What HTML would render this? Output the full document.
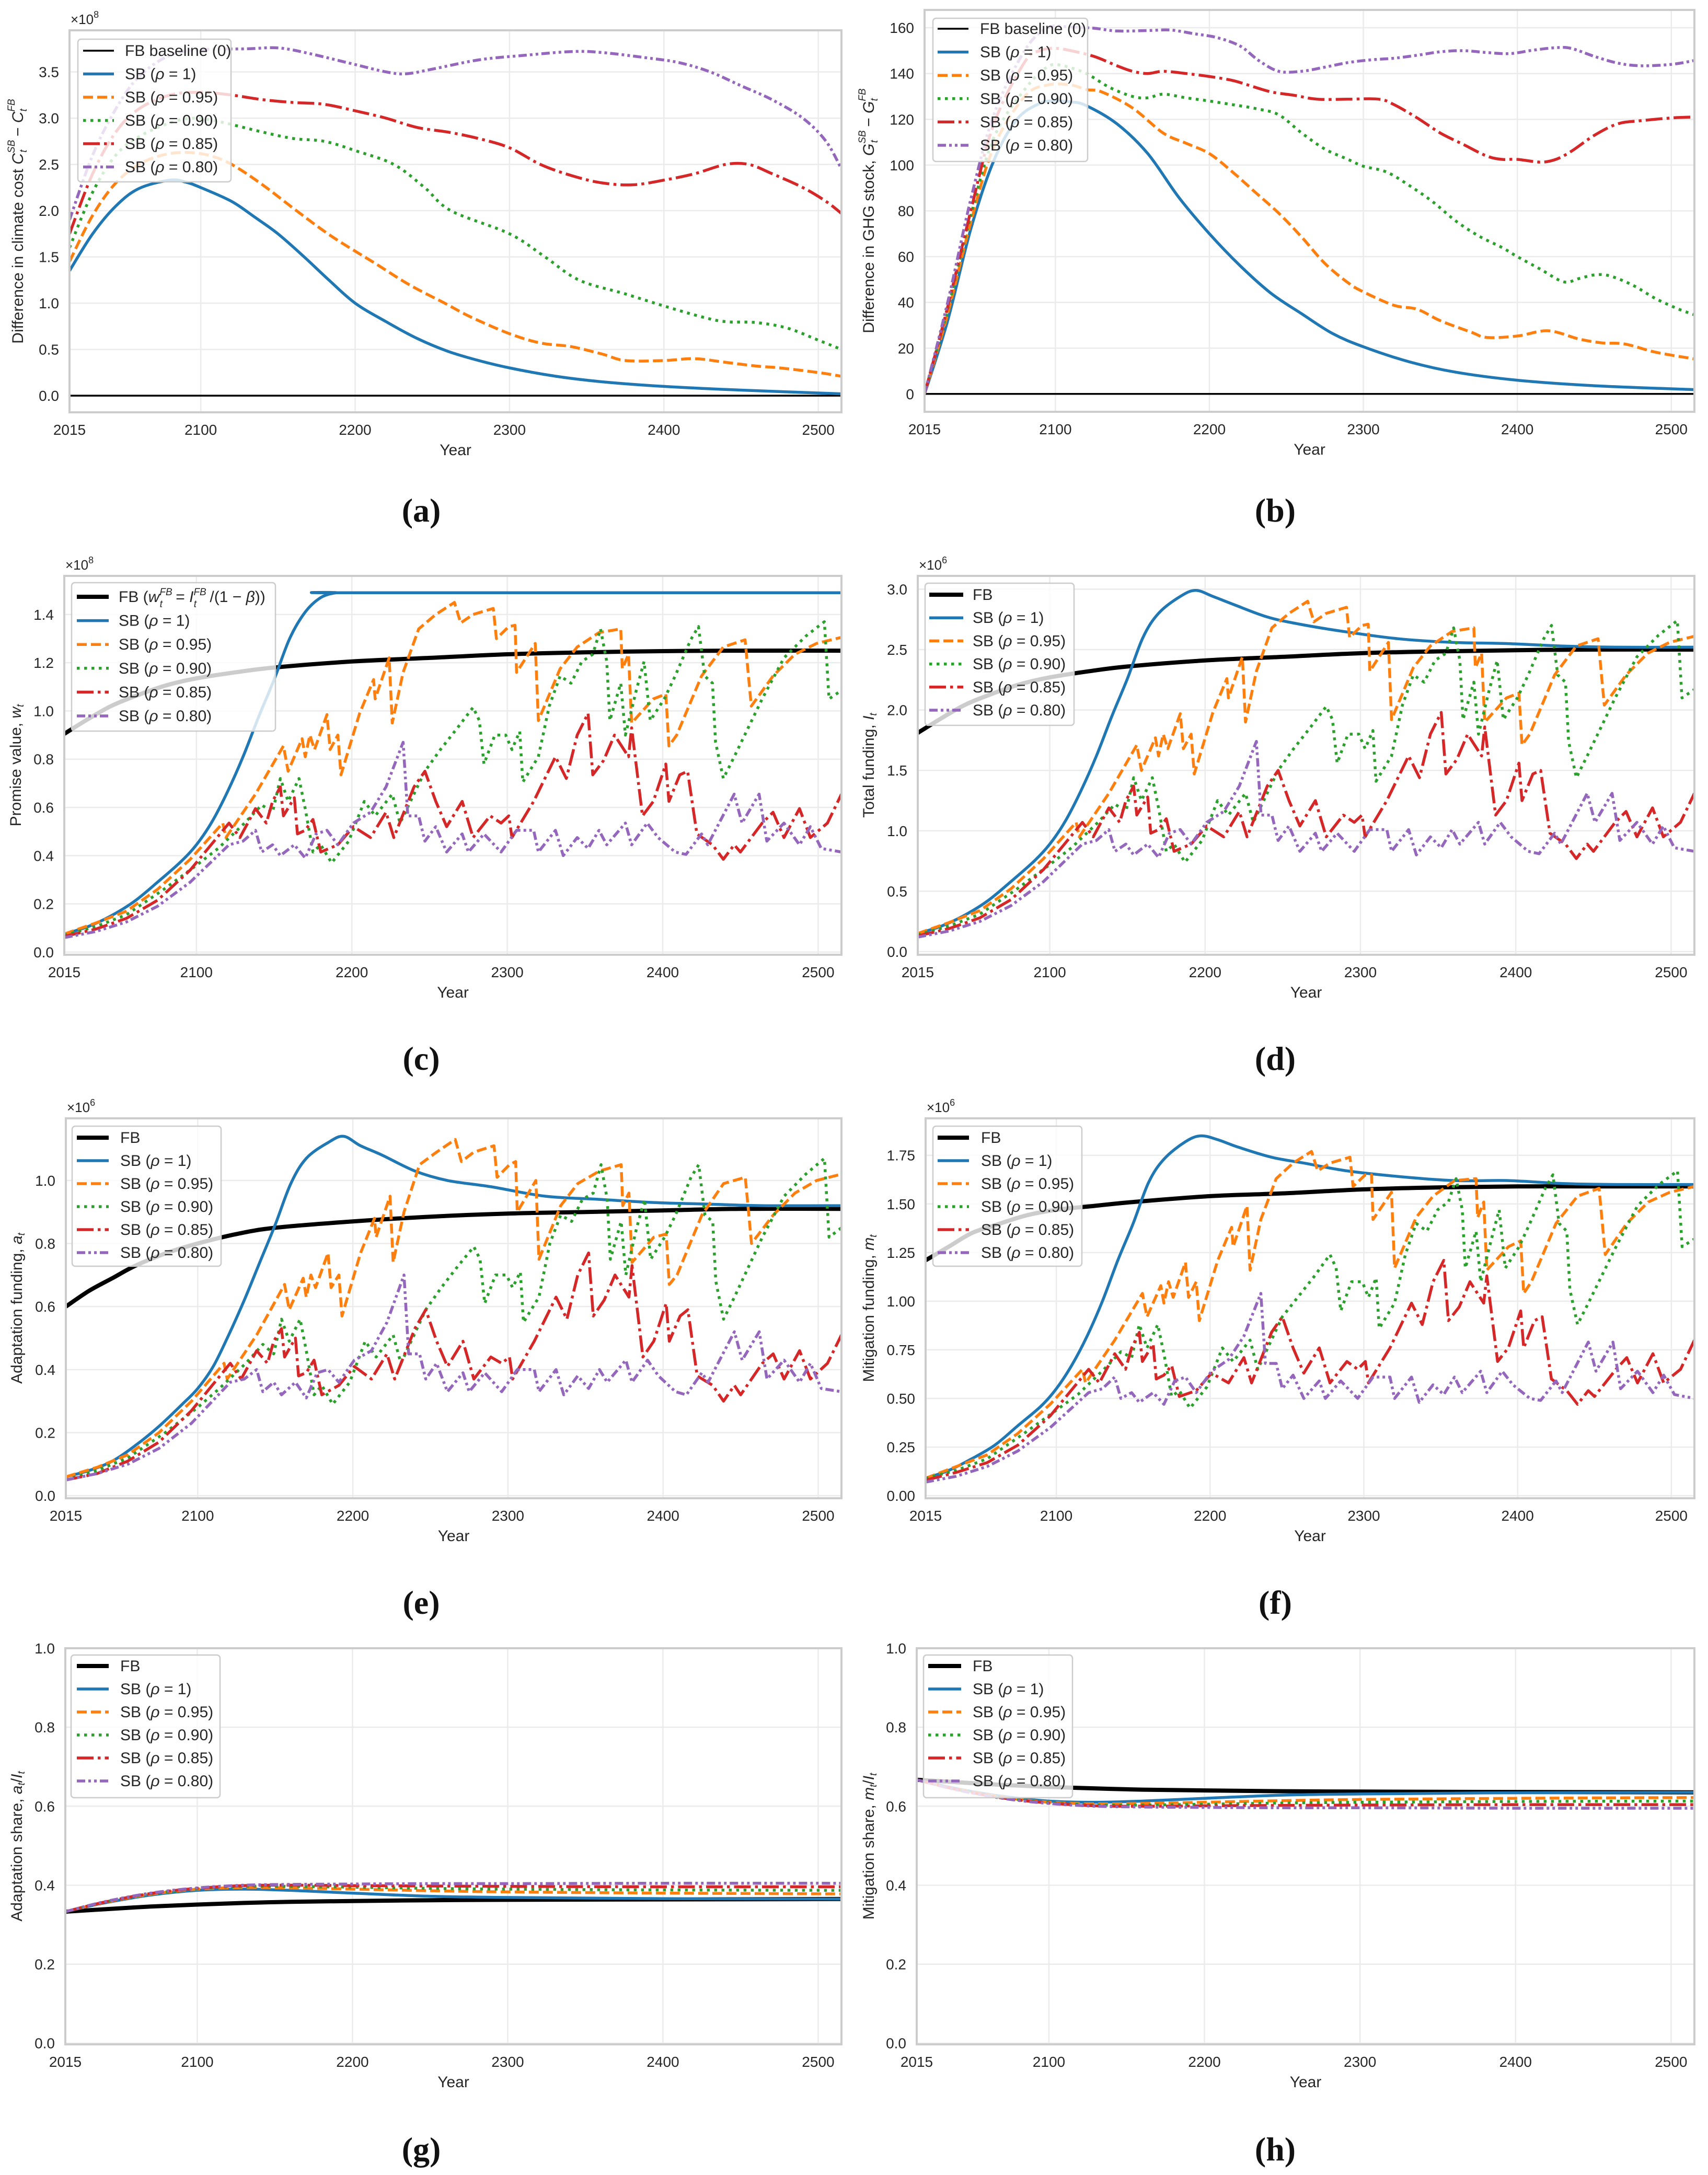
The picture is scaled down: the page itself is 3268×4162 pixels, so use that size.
<!DOCTYPE html>
<html><head><meta charset="utf-8"><title>SB vs FB comparison panels</title>
<style>
html,body{margin:0;padding:0;background:#fff;}
svg{display:block;font-family:"Liberation Sans",sans-serif;}
</style></head>
<body>
<svg id="fig" xmlns="http://www.w3.org/2000/svg" width="3268" height="4162" viewBox="0 0 3268 4162"></svg>
<script>
// ===== tick label arrays =====
const xTicks = [2015,2100,2200,2300,2400,2500];
const aTicks = [0,0.5,1.0,1.5,2.0,2.5,3.0,3.5];
const bTicks = [0,20,40,60,80,100,120,140,160];
const cTicks = [0,0.2,0.4,0.6,0.8,1.0,1.2,1.4];
const dTicks = [0,0.5,1.0,1.5,2.0,2.5,3.0];
const eTicks = [0,0.2,0.4,0.6,0.8,1.0];
const fTicks = [0,0.25,0.5,0.75,1.0,1.25,1.5,1.75];
const gTicks = [0,0.2,0.4,0.6,0.8,1.0];

// ===== (a) climate cost difference (x1e8) =====
const aFbX = [2015,2515];
const aFbY = [0,0];
const aBlueX = [2015,2030,2045,2060,2080,2090,2100,2120,2135,2150,2167,2183,2200,2220,2240,2260,2280,2300,2330,2360,2400,2450,2515];
const aBlueY = [1.35,1.75,2.05,2.24,2.33,2.31,2.25,2.10,1.93,1.75,1.5,1.25,1.0,0.8,0.62,0.48,0.38,0.30,0.21,0.15,0.10,0.06,0.02];
const aOrX = [2015,2030,2045,2060,2075,2090,2105,2120,2140,2162,2185,2213,2235,2258,2275,2300,2320,2340,2360,2375,2400,2420,2440,2460,2475,2500,2515];
const aOrY = [1.45,1.95,2.3,2.5,2.6,2.63,2.6,2.5,2.28,2.0,1.72,1.43,1.2,1.0,0.85,0.67,0.57,0.53,0.45,0.38,0.38,0.40,0.36,0.32,0.30,0.25,0.21];
const aGrX = [2015,2030,2045,2060,2080,2095,2110,2140,2160,2180,2200,2225,2245,2262,2300,2323,2345,2375,2400,2425,2440,2460,2480,2500,2515];
const aGrY = [1.6,2.2,2.6,2.8,2.95,3.0,2.97,2.85,2.78,2.75,2.65,2.5,2.25,2.0,1.75,1.5,1.25,1.1,0.97,0.85,0.8,0.79,0.73,0.6,0.5];
const aRdX = [2015,2030,2045,2060,2080,2100,2120,2140,2160,2180,2200,2220,2240,2260,2280,2300,2320,2340,2360,2380,2400,2420,2440,2455,2470,2490,2505,2515];
const aRdY = [1.75,2.4,2.85,3.1,3.25,3.28,3.25,3.2,3.17,3.15,3.08,3.0,2.9,2.85,2.78,2.68,2.5,2.38,2.3,2.28,2.33,2.4,2.5,2.5,2.4,2.25,2.1,1.97];
const aPuX = [2015,2030,2045,2060,2080,2100,2130,2150,2170,2200,2220,2233,2250,2280,2310,2340,2360,2390,2410,2430,2450,2470,2490,2505,2515];
const aPuY = [1.9,2.6,3.1,3.45,3.68,3.74,3.75,3.76,3.7,3.58,3.5,3.48,3.53,3.63,3.68,3.72,3.71,3.65,3.6,3.5,3.35,3.2,3.0,2.75,2.45];

// ===== (b) GHG stock difference =====
const bFbX = [2015,2515];
const bFbY = [0,0];
const bBlueX = [2015,2030,2045,2060,2075,2090,2100,2110,2120,2140,2160,2180,2200,2220,2240,2260,2280,2300,2330,2360,2400,2450,2515];
const bBlueY = [0,32,72,102,120,127,128,127.6,126,118,105,86,70,56,44,35,26.4,20.6,14,9.5,6,3.6,1.9];
const bOrX = [2015,2030,2045,2060,2080,2095,2110,2120,2130,2150,2170,2185,2200,2215,2230,2245,2260,2275,2290,2300,2320,2335,2350,2370,2380,2400,2420,2440,2455,2470,2490,2515];
const bOrY = [0,35,75,108,130,135,135,133,132,125,114,109.5,105,97,88,79,68.5,57,48.6,44.6,38.7,37,32,27,24.7,25.3,27.6,24,22.3,21.8,18.2,15.3];
const bGrX = [2015,2030,2045,2060,2080,2095,2105,2120,2135,2150,2160,2170,2185,2200,2215,2230,2245,2260,2275,2290,2300,2315,2330,2345,2360,2375,2390,2400,2415,2430,2440,2450,2460,2475,2490,2505,2515];
const bGrY = [0,37,78,112,133,143,143.4,140,134,130,129.4,131,129.4,128,126.4,124.7,122,114,107,102.5,99.5,97,91,84,75.6,69,64,60,54.5,49,50.4,52,51.6,47.5,41.6,37,34.6];
const bRdX = [2015,2030,2045,2060,2080,2090,2100,2110,2125,2140,2150,2160,2170,2185,2200,2215,2225,2240,2255,2270,2290,2310,2320,2335,2350,2365,2380,2390,2400,2415,2425,2435,2450,2465,2480,2500,2515];
const bRdY = [0,38,80,118,145,150,151,150,147.5,143.4,141,140,141,140,138.7,137,135,132,130.5,128.8,128.8,128.8,126.4,120.6,114,109,104,102.5,102.5,101.3,102.5,106,113,118,119.4,120.6,121];
const bPuX = [2015,2030,2045,2060,2080,2095,2110,2125,2140,2160,2175,2190,2205,2220,2232,2245,2260,2275,2290,2305,2320,2335,2350,2365,2380,2395,2410,2425,2435,2450,2465,2480,2500,2515];
const bPuY = [0,40,85,122,150,160,160.3,159.8,158.6,158.8,159,157.4,155.7,152,145.7,141,141,142.8,144.8,146,146.7,148,149.5,150,149.2,148.7,150.2,151.3,151,147.5,144.6,143.4,144,145.7];

// ===== shared year grids for panels c-f =====
const fbYears = [2015,2030,2045,2060,2080,2100,2125,2150,2200,2250,2300,2350,2400,2450,2515];
const blueYears = [2015,2030,2045,2060,2075,2090,2100,2110,2120,2130,2140,2150,2160,2170,2184,2194,2205,2219,2240,2261,2289,2324,2359,2394,2429,2464,2515];
const orYears = [2015,2035,2055,2075,2096,2117,2119,2138,2156,2159,2168,2170,2173,2176,2184,2186,2191,2193,2205,2214,2215,2224,2226,2233,2243,2254,2266,2270,2278,2291,2293,2301,2305,2306,2318,2320,2334,2345,2359,2373,2374,2378,2380,2394,2402,2404,2409,2425,2439,2453,2457,2471,2485,2499,2515];
const grYears = [2015,2035,2055,2079,2100,2114,2131,2142,2149,2154,2159,2166,2170,2175,2180,2187,2198,2208,2215,2226,2231,2247,2257,2268,2278,2282,2285,2292,2299,2303,2308,2310,2320,2327,2334,2341,2348,2355,2360,2364,2366,2373,2376,2383,2388,2392,2401,2408,2418,2423,2427,2432,2434,2439,2446,2464,2478,2492,2504,2507,2515];
const rdYears = [2015,2035,2055,2075,2096,2121,2128,2138,2145,2149,2154,2156,2163,2165,2170,2175,2180,2191,2201,2212,2222,2227,2240,2247,2254,2261,2271,2278,2289,2296,2301,2303,2317,2331,2338,2345,2352,2355,2362,2369,2378,2380,2387,2394,2402,2404,2411,2416,2422,2432,2439,2446,2450,2464,2471,2478,2488,2495,2506,2515];
const puYears = [2015,2035,2055,2075,2096,2121,2130,2138,2142,2149,2154,2163,2170,2177,2184,2191,2201,2212,2222,2233,2236,2243,2247,2254,2261,2271,2275,2285,2296,2306,2317,2320,2331,2336,2345,2352,2359,2364,2376,2380,2390,2397,2408,2415,2425,2429,2446,2451,2462,2467,2478,2488,2495,2502,2515];
const cBlueYears = [2015,2030,2045,2060,2075,2090,2100,2110,2120,2130,2140,2150,2160,2170,2180,2190,2200,2515];

// ===== (c) promise value (x1e8) =====
const cFb = [0.905,0.965,1.02,1.06,1.105,1.135,1.16,1.18,1.205,1.22,1.235,1.243,1.248,1.25,1.25];
const cBlue = [0.075,0.105,0.15,0.21,0.29,0.375,0.445,0.54,0.665,0.81,0.975,1.13,1.3,1.41,1.47,1.49,1.49,1.49];
const cOr = [0.075,0.12,0.17,0.26,0.385,0.535,0.475,0.655,0.855,0.75,0.885,0.81,0.9,0.84,0.985,0.84,0.9,0.735,0.99,1.13,1.05,1.22,0.95,1.16,1.34,1.4,1.45,1.365,1.4,1.425,1.3,1.35,1.355,1.16,1.28,0.96,1.175,1.265,1.325,1.34,1.175,1.235,0.95,1.05,1.07,0.855,0.9,1.145,1.265,1.295,1.02,1.145,1.235,1.28,1.305];
const cGr = [0.07,0.105,0.155,0.26,0.36,0.43,0.535,0.61,0.58,0.72,0.625,0.72,0.595,0.415,0.445,0.37,0.46,0.625,0.565,0.655,0.535,0.75,0.84,0.93,1.015,0.96,0.78,0.9,0.9,0.84,0.915,0.705,0.81,1.02,1.145,1.115,1.205,1.235,1.34,1.205,0.96,1.115,0.9,1.085,1.205,0.96,1.05,1.145,1.295,1.35,1.145,1.115,0.87,0.72,0.81,1.05,1.22,1.31,1.37,1.05,1.085];
const cRd = [0.065,0.095,0.14,0.215,0.34,0.535,0.475,0.595,0.535,0.625,0.685,0.565,0.64,0.49,0.505,0.55,0.415,0.445,0.52,0.475,0.58,0.475,0.685,0.75,0.625,0.52,0.625,0.475,0.565,0.535,0.565,0.475,0.625,0.81,0.72,0.9,0.99,0.735,0.795,0.9,0.81,0.93,0.565,0.625,0.78,0.625,0.735,0.75,0.49,0.445,0.385,0.445,0.415,0.535,0.58,0.475,0.595,0.475,0.535,0.655];
const cPu = [0.06,0.085,0.125,0.19,0.29,0.445,0.46,0.505,0.415,0.445,0.4,0.445,0.39,0.49,0.505,0.445,0.535,0.58,0.685,0.87,0.565,0.565,0.46,0.52,0.415,0.49,0.415,0.49,0.415,0.505,0.505,0.415,0.505,0.4,0.475,0.43,0.505,0.445,0.535,0.445,0.535,0.475,0.415,0.405,0.49,0.445,0.655,0.535,0.655,0.46,0.535,0.445,0.52,0.43,0.415];

// ===== (d) total funding (x1e6) =====
const dFb = [1.81,1.93,2.04,2.12,2.21,2.27,2.32,2.36,2.41,2.44,2.47,2.485,2.495,2.5,2.5];
const dBlue = [0.15,0.21,0.3,0.42,0.58,0.75,0.89,1.08,1.33,1.62,1.95,2.26,2.6,2.8,2.94,2.99,2.94,2.87,2.77,2.71,2.65,2.59,2.56,2.55,2.53,2.52,2.52];
const dOr = [0.15,0.24,0.34,0.52,0.77,1.07,0.95,1.31,1.71,1.5,1.77,1.62,1.8,1.68,1.97,1.68,1.8,1.47,1.98,2.26,2.1,2.44,1.9,2.32,2.68,2.8,2.9,2.73,2.8,2.85,2.6,2.7,2.71,2.32,2.56,1.92,2.35,2.53,2.65,2.68,2.35,2.47,1.9,2.1,2.14,1.71,1.8,2.29,2.53,2.59,2.04,2.29,2.47,2.56,2.61];
const dGr = [0.14,0.21,0.31,0.52,0.72,0.86,1.07,1.22,1.16,1.44,1.25,1.44,1.19,0.83,0.89,0.74,0.92,1.25,1.13,1.31,1.07,1.5,1.68,1.86,2.03,1.92,1.56,1.8,1.8,1.68,1.83,1.41,1.62,2.04,2.29,2.23,2.41,2.47,2.68,2.41,1.92,2.23,1.8,2.17,2.41,1.92,2.1,2.29,2.59,2.7,2.29,2.23,1.74,1.44,1.62,2.1,2.44,2.62,2.74,2.1,2.17];
const dRd = [0.13,0.19,0.28,0.43,0.68,1.07,0.95,1.19,1.07,1.25,1.37,1.13,1.28,0.98,1.01,1.1,0.83,0.89,1.04,0.95,1.16,0.95,1.37,1.5,1.25,1.04,1.25,0.95,1.13,1.07,1.13,0.95,1.25,1.62,1.44,1.8,1.98,1.47,1.59,1.8,1.62,1.86,1.13,1.25,1.56,1.25,1.47,1.5,0.98,0.89,0.77,0.89,0.83,1.07,1.16,0.95,1.19,0.95,1.07,1.31];
const dPu = [0.12,0.17,0.25,0.38,0.58,0.89,0.92,1.01,0.83,0.89,0.8,0.89,0.78,0.98,1.01,0.89,1.07,1.16,1.37,1.74,1.13,1.13,0.92,1.04,0.83,0.98,0.83,0.98,0.83,1.01,1.01,0.83,1.01,0.8,0.95,0.86,1.01,0.89,1.07,0.89,1.07,0.95,0.83,0.81,0.98,0.89,1.31,1.07,1.31,0.92,1.07,0.89,1.04,0.86,0.83];

// ===== (e) adaptation funding (x1e6) =====
const eFb = [0.6,0.65,0.69,0.73,0.77,0.8,0.83,0.85,0.87,0.885,0.895,0.9,0.905,0.91,0.91];
const eBlue = [0.06,0.08,0.11,0.16,0.22,0.29,0.34,0.41,0.51,0.62,0.74,0.86,0.99,1.07,1.12,1.14,1.11,1.08,1.03,1.0,0.98,0.95,0.94,0.93,0.925,0.92,0.92];
const eOr = [0.06,0.09,0.13,0.2,0.3,0.42,0.37,0.51,0.67,0.59,0.69,0.63,0.7,0.66,0.77,0.66,0.7,0.57,0.77,0.88,0.82,0.95,0.74,0.9,1.05,1.09,1.13,1.06,1.09,1.11,1.01,1.05,1.06,0.9,1.0,0.75,0.92,0.99,1.03,1.05,0.92,0.96,0.74,0.82,0.83,0.67,0.7,0.89,0.99,1.01,0.8,0.89,0.96,1.0,1.02];
const eGr = [0.05,0.08,0.12,0.2,0.28,0.34,0.42,0.48,0.45,0.56,0.49,0.56,0.46,0.32,0.35,0.29,0.36,0.49,0.44,0.51,0.42,0.59,0.66,0.73,0.79,0.75,0.61,0.7,0.7,0.66,0.71,0.55,0.63,0.8,0.89,0.87,0.94,0.96,1.05,0.94,0.75,0.87,0.7,0.85,0.94,0.75,0.82,0.89,1.01,1.05,0.89,0.87,0.68,0.56,0.63,0.82,0.95,1.02,1.07,0.82,0.85];
const eRd = [0.05,0.07,0.11,0.17,0.27,0.42,0.37,0.46,0.42,0.49,0.53,0.44,0.5,0.38,0.39,0.43,0.32,0.35,0.41,0.37,0.45,0.37,0.53,0.59,0.49,0.41,0.49,0.37,0.44,0.42,0.44,0.37,0.49,0.63,0.56,0.7,0.77,0.57,0.62,0.7,0.63,0.73,0.44,0.49,0.61,0.49,0.57,0.59,0.38,0.35,0.3,0.35,0.32,0.42,0.45,0.37,0.46,0.37,0.42,0.51];
const ePu = [0.05,0.07,0.1,0.15,0.23,0.36,0.37,0.4,0.33,0.36,0.32,0.36,0.31,0.39,0.4,0.36,0.43,0.46,0.55,0.7,0.45,0.45,0.37,0.42,0.33,0.39,0.33,0.39,0.33,0.4,0.4,0.33,0.4,0.32,0.38,0.34,0.4,0.36,0.43,0.36,0.43,0.38,0.33,0.32,0.39,0.36,0.52,0.43,0.52,0.37,0.43,0.36,0.42,0.34,0.33];

// ===== (f) mitigation funding (x1e6) =====
const fFb = [1.21,1.28,1.35,1.39,1.44,1.47,1.49,1.51,1.54,1.555,1.575,1.585,1.59,1.59,1.59];
const fBlue = [0.09,0.13,0.19,0.26,0.36,0.46,0.55,0.67,0.82,1.0,1.21,1.4,1.61,1.73,1.82,1.85,1.83,1.79,1.74,1.71,1.67,1.64,1.62,1.62,1.605,1.6,1.6];
const fOr = [0.09,0.15,0.21,0.32,0.47,0.65,0.58,0.8,1.04,0.92,1.08,0.99,1.1,1.02,1.2,1.02,1.1,0.9,1.21,1.38,1.28,1.49,1.16,1.42,1.63,1.71,1.77,1.67,1.71,1.74,1.59,1.65,1.65,1.42,1.56,1.17,1.43,1.54,1.62,1.63,1.43,1.51,1.16,1.28,1.31,1.04,1.1,1.4,1.54,1.58,1.24,1.4,1.51,1.56,1.59];
const fGr = [0.09,0.13,0.19,0.32,0.44,0.52,0.65,0.74,0.71,0.88,0.76,0.88,0.73,0.51,0.54,0.45,0.56,0.76,0.69,0.8,0.65,0.92,1.02,1.13,1.24,1.17,0.95,1.1,1.1,1.02,1.12,0.86,0.99,1.24,1.4,1.36,1.47,1.51,1.63,1.47,1.17,1.36,1.1,1.32,1.47,1.17,1.28,1.4,1.58,1.65,1.4,1.36,1.06,0.88,0.99,1.28,1.49,1.6,1.67,1.28,1.32];
const fRd = [0.08,0.12,0.17,0.26,0.41,0.65,0.58,0.73,0.65,0.76,0.84,0.69,0.78,0.6,0.62,0.67,0.51,0.54,0.63,0.58,0.71,0.58,0.84,0.92,0.76,0.63,0.76,0.58,0.69,0.65,0.69,0.58,0.76,0.99,0.88,1.1,1.21,0.9,0.97,1.1,0.99,1.13,0.69,0.76,0.95,0.76,0.9,0.92,0.6,0.54,0.47,0.54,0.51,0.65,0.71,0.58,0.73,0.58,0.65,0.8];
const fPu = [0.07,0.1,0.15,0.23,0.35,0.53,0.55,0.61,0.5,0.53,0.48,0.53,0.47,0.59,0.61,0.53,0.64,0.7,0.82,1.04,0.68,0.68,0.55,0.62,0.5,0.59,0.5,0.59,0.5,0.61,0.61,0.5,0.61,0.48,0.57,0.52,0.61,0.53,0.64,0.53,0.64,0.57,0.5,0.49,0.59,0.53,0.79,0.64,0.79,0.55,0.64,0.53,0.62,0.52,0.5];

// ===== (g)/(h) shares =====
const shareYears = [2015,2040,2070,2100,2130,2160,2200,2250,2300,2400,2515];
const gFb = [0.333,0.339,0.346,0.351,0.355,0.358,0.36,0.362,0.363,0.364,0.365];
const gBlue = [0.333,0.355,0.375,0.387,0.39,0.387,0.38,0.372,0.369,0.366,0.365];
const gOr = [0.333,0.356,0.377,0.39,0.394,0.393,0.39,0.386,0.383,0.38,0.378];
const gGr = [0.333,0.357,0.378,0.391,0.397,0.397,0.395,0.392,0.39,0.388,0.387];
const gRd = [0.333,0.357,0.379,0.392,0.399,0.4,0.399,0.398,0.397,0.396,0.396];
const gPu = [0.333,0.358,0.38,0.393,0.4,0.402,0.403,0.404,0.404,0.405,0.405];
const hFb = [0.667,0.661,0.654,0.649,0.645,0.642,0.64,0.638,0.637,0.636,0.635];
const hBlue = [0.667,0.645,0.625,0.613,0.61,0.613,0.62,0.628,0.631,0.634,0.635];
const hOr = [0.667,0.644,0.623,0.61,0.606,0.607,0.61,0.614,0.617,0.62,0.622];
const hGr = [0.667,0.643,0.622,0.609,0.603,0.603,0.605,0.608,0.61,0.612,0.613];
const hRd = [0.667,0.643,0.621,0.608,0.601,0.6,0.601,0.602,0.603,0.604,0.604];
const hPu = [0.667,0.642,0.62,0.607,0.6,0.598,0.597,0.596,0.596,0.595,0.595];

// ===== rendering =====
const NS = 'http://www.w3.org/2000/svg';
const svg = document.getElementById('fig');
function mk(tag, parent, attrs){
  const e = document.createElementNS(NS, tag);
  for (const k in attrs) e.setAttribute(k, attrs[k]);
  parent.appendChild(e);
  return e;
}
const STY = {
  fbThin:{c:'#000',w:3.5,d:null},
  fbThick:{c:'#000',w:8,d:null},
  blue:{c:'#1f77b4',w:5.5,d:null},
  or:{c:'#ff7f0e',w:5.5,d:'19 8'},
  gr:{c:'#2ca02c',w:5.5,d:'5.5 8.5'},
  rd:{c:'#d62728',w:5.5,d:'32 8 5.5 8'},
  pu:{c:'#9467bd',w:5.5,d:'16 6 5 6 5 6'}
};
const SBL = ['1','0.95','0.90','0.85','0.80'];

function addLabelSB(t, rho){
  t.appendChild(document.createTextNode('SB ('));
  const r = mk('tspan', t, {'font-style':'italic'}); r.textContent = 'ρ';
  t.appendChild(document.createTextNode(' = ' + rho + ')'));
}

function pathLinear(P){
  let d = '';
  P.forEach((p,i) => { d += (i ? 'L' : 'M') + p[0].toFixed(1) + ',' + p[1].toFixed(1); });
  return d;
}
function pathSmooth(P){
  if (P.length < 3) return pathLinear(P);
  let d = 'M' + P[0][0].toFixed(1) + ',' + P[0][1].toFixed(1);
  for (let i = 0; i < P.length - 1; i++){
    const p0 = P[Math.max(0,i-1)], p1 = P[i], p2 = P[i+1], p3 = P[Math.min(P.length-1,i+2)];
    const c1x = p1[0] + (p2[0]-p0[0])/6, c1y = p1[1] + (p2[1]-p0[1])/6;
    const c2x = p2[0] - (p3[0]-p1[0])/6, c2y = p2[1] - (p3[1]-p1[1])/6;
    d += 'C' + c1x.toFixed(1) + ',' + c1y.toFixed(1) + ' ' + c2x.toFixed(1) + ',' + c2y.toFixed(1) + ' ' + p2[0].toFixed(1) + ',' + p2[1].toFixed(1);
  }
  return d;
}

let clipId = 0;
function panel(p){
  const g = mk('g', svg, {});
  
  
  const sx = v => p.L + (v - 2015) / 500 * (p.R - p.L);
  const sy = v => p.B - (v - p.y0) / (p.y1 - p.y0) * (p.B - p.T);
  mk('rect', g, {x:p.L, y:p.T, width:p.R-p.L, height:p.B-p.T, fill:'#fff'});
  const grid = mk('g', g, {stroke:'#ebebeb', 'stroke-width':2.5});
  
  
  xTicks.forEach(v => mk('line', grid, {x1:sx(v), x2:sx(v), y1:p.T, y2:p.B}));
  p.ticks.forEach(v => mk('line', grid, {x1:p.L, x2:p.R, y1:sy(v), y2:sy(v)}));
  const xl = mk('g', g, {'font-size':28, fill:'#262626', 'text-anchor':'middle'});
  
  
  xTicks.forEach(v => { const t = mk('text', xl, {x:sx(v), y:p.B+43}); t.textContent = String(v); });
  const yl = mk('g', g, {'font-size':28, fill:'#262626', 'text-anchor':'end'});
  
  
  p.ticks.forEach(v => { const t = mk('text', yl, {x:p.L-20, y:sy(v)+10}); t.textContent = v.toFixed(p.dec); });
  const xt = mk('text', g, {x:(p.L+p.R)/2, y:p.B+82, 'font-size':30, fill:'#262626', 'text-anchor':'middle'});
  
  
  xt.textContent = 'Year';
  const cy = (p.T + p.B) / 2;
  const yt = mk('text', g, {x:p.ylx, y:cy, 'font-size':30, fill:'#262626', 'text-anchor':'middle', transform:'rotate(-90 '+p.ylx+' '+cy+')', 'dominant-baseline':'middle'});
  
  
  p.ylabel(yt);
  if (p.off){
    const ot = mk('text', g, {x:p.L+2, y:p.T-12, 'font-size':26, fill:'#262626'});
    
    
    ot.appendChild(document.createTextNode('×10'));
    const s = mk('tspan', ot, {'font-size':18, dy:-12}); s.textContent = p.off;
  }
  clipId++;
  const cp = mk('clipPath', g, {id:'clip'+clipId});
  mk('rect', cp, {x:p.L, y:p.T, width:p.R-p.L, height:p.B-p.T});
  const sg = mk('g', g, {'clip-path':'url(#clip'+clipId+')', fill:'none', 'stroke-linejoin':'round'});
  
  
  p.series.forEach(s => {
    const st = STY[s.st];
    const P = s.x.map((xv, i) => [sx(xv), sy(s.y[i])]);
    const smooth = p.smoothAll || s.st === 'blue' || s.st === 'fbThick' || s.st === 'fbThin';
    const d = smooth ? pathSmooth(P) : pathLinear(P);
    const path = mk('path', sg, {d:d, stroke:st.c, 'stroke-width':st.w});
    if (st.d) path.setAttribute('stroke-dasharray', st.d);
    
    
  });
  const sp = mk('rect', g, {x:p.L, y:p.T, width:p.R-p.L, height:p.B-p.T, fill:'none', stroke:'#cccccc', 'stroke-width':4});
  
  
  const lg = p.leg;
  const lgG = mk('g', g, {});
  
  
  mk('rect', lgG, {x:lg.x, y:lg.y, width:lg.w, height:lg.h, rx:6, fill:'#fff', 'fill-opacity':0.8, stroke:'#cccccc', 'stroke-width':2.5});
  p.series.forEach((s, i) => {
    const st = STY[s.st];
    const yy = lg.fy + i * lg.dy;
    const en = mk('g', lgG, {});
    
    
    const ln = mk('line', en, {x1:lg.l0, x2:lg.l1, y1:yy, y2:yy, stroke:st.c, 'stroke-width':st.w});
    if (st.d) ln.setAttribute('stroke-dasharray', st.d);
    const t = mk('text', en, {x:lg.tx, y:yy+10, 'font-size':30, fill:'#262626'});
    s.label(t);
  });
}

function fbLabel(txt){ return t => { t.textContent = txt; }; }
function sbLab(i){ return t => addLabelSB(t, SBL[i]); }
function sub(t, base, subTxt, supTxt){
  const b = mk('tspan', t, {'font-style':'italic'}); b.textContent = base;
  if (supTxt){ const s1 = mk('tspan', t, {'font-size':19, 'font-style':'italic', dy:-13}); s1.textContent = supTxt;
    const s2 = mk('tspan', t, {'font-size':19, 'font-style':'italic', dx:-(supTxt.length*12), dy:23}); s2.textContent = subTxt;
    const z = mk('tspan', t, {dy:-10, dx: (supTxt.length*12 - 7)}); z.textContent = ' '; }
  else { const s2 = mk('tspan', t, {'font-size':19, 'font-style':'italic', dy:8}); s2.textContent = subTxt;
    const z = mk('tspan', t, {dy:-8}); z.textContent = '\u200b'; }
}
function series5(x1,y1,x2,y2,x3,y3,x4,y4,x5,y5){
  return [
    {name:'line-sb-rho-1', st:'blue', x:x1, y:y1, label:sbLab(0)},
    {name:'line-sb-rho-0.95', st:'or', x:x2, y:y2, label:sbLab(1)},
    {name:'line-sb-rho-0.90', st:'gr', x:x3, y:y3, label:sbLab(2)},
    {name:'line-sb-rho-0.85', st:'rd', x:x4, y:y4, label:sbLab(3)},
    {name:'line-sb-rho-0.80', st:'pu', x:x5, y:y5, label:sbLab(4)}
  ];
}

panel({name:'panel-a-climate-cost', smoothAll:true, L:133, R:1610, T:58, B:789, y0:-0.18, y1:3.95, ticks:aTicks, dec:1, off:'8', ylx:36,
  ylabel: t => { t.appendChild(document.createTextNode('Difference in climate cost ')); sub(t,'C','t','SB'); t.appendChild(document.createTextNode(' − ')); sub(t,'C','t','FB'); },
  leg:{x:149,y:75,w:293,h:273,l0:159,l1:218,tx:239,fy:97,dy:44.5},
  series:[{name:'line-fb-baseline', st:'fbThin', x:aFbX, y:aFbY, label:fbLabel('FB baseline (0)')}].concat(series5(aBlueX,aBlueY,aOrX,aOrY,aGrX,aGrY,aRdX,aRdY,aPuX,aPuY))});
panel({name:'panel-b-ghg-stock', smoothAll:true, L:1769, R:3242, T:19, B:788, y0:-7.8, y1:167.8, ticks:bTicks, dec:0, off:null, ylx:1664,
  ylabel: t => { t.appendChild(document.createTextNode('Difference in GHG stock, ')); sub(t,'G','t','SB'); t.appendChild(document.createTextNode(' − ')); sub(t,'G','t','FB'); },
  leg:{x:1785,y:35,w:296,h:274,l0:1794,l1:1853,tx:1875,fy:55,dy:44.6},
  series:[{name:'line-fb-baseline', st:'fbThin', x:bFbX, y:bFbY, label:fbLabel('FB baseline (0)')}].concat(series5(bBlueX,bBlueY,bOrX,bOrY,bGrX,bGrY,bRdX,bRdY,bPuX,bPuY))});
panel({name:'panel-c-promise-value', L:123, R:1610, T:1102, B:1827, y0:-0.011, y1:1.56, ticks:cTicks, dec:1, off:'8', ylx:32,
  ylabel: t => { t.appendChild(document.createTextNode('Promise value, ')); sub(t,'w','t'); },
  leg:{x:137,y:1115,w:390,h:284,l0:147,l1:208,tx:227,fy:1142,dy:45.6},
  series:[{name:'line-fb', st:'fbThick', x:fbYears, y:cFb, label: t => { t.appendChild(document.createTextNode('FB (')); sub(t,'w','t','FB'); t.appendChild(document.createTextNode(' = ')); sub(t,'I','t','FB'); t.appendChild(document.createTextNode('/(1 − ')); const b=mk('tspan',t,{'font-style':'italic'}); b.textContent='β'; t.appendChild(document.createTextNode('))')); }}]
   .concat(series5(cBlueYears,cBlue,orYears,cOr,grYears,cGr,rdYears,cRd,puYears,cPu))});
panel({name:'panel-d-total-funding', L:1756, R:3242, T:1102, B:1827, y0:-0.026, y1:3.11, ticks:dTicks, dec:1, off:'6', ylx:1664,
  ylabel: t => { t.appendChild(document.createTextNode('Total funding, ')); sub(t,'I','t'); },
  leg:{x:1770,y:1116,w:285,h:272,l0:1778,l1:1843,tx:1861,fy:1138,dy:44.2},
  series:[{name:'line-fb', st:'fbThick', x:fbYears, y:dFb, label:fbLabel('FB')}].concat(series5(blueYears,dBlue,orYears,dOr,grYears,dGr,rdYears,dRd,puYears,dPu))});
panel({name:'panel-e-adaptation-funding', L:126, R:1610, T:2140, B:2867, y0:-0.008, y1:1.197, ticks:eTicks, dec:1, off:'6', ylx:34,
  ylabel: t => { t.appendChild(document.createTextNode('Adaptation funding, ')); sub(t,'a','t'); },
  leg:{x:138,y:2155,w:285,h:268,l0:147,l1:208,tx:230,fy:2177,dy:44},
  series:[{name:'line-fb', st:'fbThick', x:fbYears, y:eFb, label:fbLabel('FB')}].concat(series5(blueYears,eBlue,orYears,eOr,grYears,eGr,rdYears,eRd,puYears,ePu))});
panel({name:'panel-f-mitigation-funding', L:1771, R:3242, T:2140, B:2867, y0:-0.013, y1:1.94, ticks:fTicks, dec:2, off:'6', ylx:1664,
  ylabel: t => { t.appendChild(document.createTextNode('Mitigation funding, ')); sub(t,'m','t'); },
  leg:{x:1785,y:2155,w:285,h:268,l0:1794,l1:1854,tx:1877,fy:2177,dy:44},
  series:[{name:'line-fb', st:'fbThick', x:fbYears, y:fFb, label:fbLabel('FB')}].concat(series5(blueYears,fBlue,orYears,fOr,grYears,fGr,rdYears,fRd,puYears,fPu))});
panel({name:'panel-g-adaptation-share', smoothAll:true, L:125, R:1610, T:3154, B:3912, y0:-0.003, y1:1.0, ticks:gTicks, dec:1, off:null, ylx:34,
  ylabel: t => { t.appendChild(document.createTextNode('Adaptation share, ')); sub(t,'a','t'); t.appendChild(document.createTextNode('/')); sub(t,'I','t'); },
  leg:{x:136,y:3167,w:285,h:273,l0:147,l1:208,tx:230,fy:3188,dy:44},
  series:[{name:'line-fb', st:'fbThick', x:shareYears, y:gFb, label:fbLabel('FB')}].concat(series5(shareYears,gBlue,shareYears,gOr,shareYears,gGr,shareYears,gRd,shareYears,gPu))});
panel({name:'panel-h-mitigation-share', smoothAll:true, L:1754, R:3242, T:3154, B:3912, y0:-0.003, y1:1.0, ticks:gTicks, dec:1, off:null, ylx:1664,
  ylabel: t => { t.appendChild(document.createTextNode('Mitigation share, ')); sub(t,'m','t'); t.appendChild(document.createTextNode('/')); sub(t,'I','t'); },
  leg:{x:1767,y:3167,w:285,h:273,l0:1776,l1:1839,tx:1861,fy:3188,dy:44},
  series:[{name:'line-fb', st:'fbThick', x:shareYears, y:hFb, label:fbLabel('FB')}].concat(series5(shareYears,hBlue,shareYears,hOr,shareYears,hGr,shareYears,hRd,shareYears,hPu))});

const letters = [['(a)',806,998],['(b)',2440,998],['(c)',806,2047],['(d)',2440,2047],['(e)',806,3088],['(f)',2440,3088],['(g)',806,4134],['(h)',2440,4134]];
letters.forEach(l => {
  const t = mk('text', svg, {x:l[1], y:l[2], 'font-size':64, 'font-family':'"Liberation Serif", serif', 'font-weight':'bold', 'text-anchor':'middle', fill:'#111'});
  
  
  t.textContent = l[0];
});
</script>
</body></html>
